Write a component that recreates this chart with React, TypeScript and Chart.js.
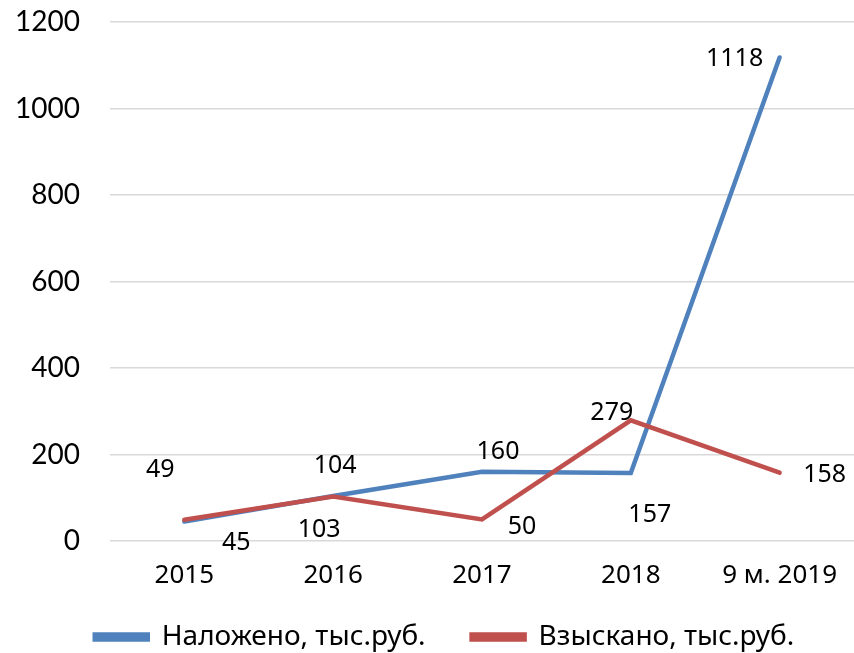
import React, { useEffect, useRef } from "react";
import { Chart, registerables } from "chart.js";

Chart.register(...registerables);

const categories = ["2015", "2016", "2017", "2018", "9 м. 2019"];
const imposedValues = [45, 104, 160, 157, 1118];
const collectedValues = [49, 103, 50, 279, 158];
const seriesNames = ["Наложено, тыс.руб.", "Взыскано, тыс.руб."];
const yTicks = { min: 0, max: 1200, step: 200 };

// label offsets (px) from each point, as placed in the source
const imposedLabelOffsets = [[52, 21], [2, -30], [16, -20], [19, 42], [-45, 1]];
const collectedLabelOffsets = [[-24, -50], [-14, 33], [40, 7], [-19, -7], [45, 2]];

const BLUE = "#4f81bd";
const RED = "#c0504d";
const LABEL_FONT = "'Noto Sans', 'Open Sans', sans-serif";

const dataLabelPlugin = {
  id: "dataLabels",
  afterDatasetsDraw(chart: any) {
    const ctx = chart.ctx;
    const offsets = [imposedLabelOffsets, collectedLabelOffsets];
    ctx.save();
    ctx.font = `25px ${LABEL_FONT}`;
    ctx.fillStyle = "#000";
    ctx.textAlign = "center";
    ctx.textBaseline = "middle";
    chart.data.datasets.forEach((ds: any, di: number) => {
      const meta = chart.getDatasetMeta(di);
      meta.data.forEach((pt: any, i: number) => {
        const [dx, dy] = offsets[di][i];
        ctx.fillText(String(ds.data[i]), pt.x + dx, pt.y + dy);
      });
    });
    ctx.restore();
  },
};

const legendShiftPlugin = {
  id: "legendShift",
  afterLayout(chart: any) {
    const lg = chart.legend;
    if (lg) {
      lg.left += 25;
      lg.right += 25;
      lg.top -= 15;
      lg.bottom -= 15;
    }
  },
};

export default function App() {
  const ref = useRef<HTMLCanvasElement>(null);
  useEffect(() => {
    if (!ref.current) return;
    const chart = new Chart(ref.current, {
      type: "line",
      data: {
        labels: categories,
        datasets: [
          {
            label: seriesNames[0],
            data: imposedValues,
            borderColor: BLUE,
            backgroundColor: BLUE,
            borderWidth: 4.5,
            pointRadius: 0,
            borderCapStyle: "round",
            order: 1,
          },
          {
            label: seriesNames[1],
            data: collectedValues,
            borderColor: RED,
            backgroundColor: RED,
            borderWidth: 4.5,
            pointRadius: 0,
            borderCapStyle: "round",
            order: 0,
          },
        ],
      },
      options: {
        animation: false,
        responsive: true,
        maintainAspectRatio: false,
        layout: { padding: { top: 22, left: -15, right: 0, bottom: -23 } },
        scales: {
          x: {
            offset: true,
            grid: { display: false, drawTicks: false },
            border: { display: false },
            ticks: {
              color: "#000",
              font: { family: LABEL_FONT, size: 26 },
              padding: 19,
              maxRotation: 0,
            },
            afterFit: (scale: any) => {
              scale.height = 51;
              scale.paddingLeft = 0;
              scale.paddingRight = 0;
            },
          },
          y: {
            min: yTicks.min,
            max: yTicks.max,
            grid: { color: "#d9d9d9", lineWidth: 1.5, drawTicks: false },
            border: { display: false },
            ticks: {
              stepSize: yTicks.step,
              color: "#000",
              font: { family: "Lato, 'Open Sans', sans-serif", size: 28 },
              padding: 30,
              callback: (v: any) => String(v),
            },
            afterFit: (scale: any) => {
              scale.paddingTop = 0;
              scale.paddingBottom = 0;
            },
          },
        },
        plugins: {
          legend: {
            position: "bottom",
            labels: {
              color: "#000",
              font: { family: LABEL_FONT, size: 28 },
              boxWidth: 53,
              boxHeight: 5,
              padding: 46,
              sort: (a: any, b: any) => a.datasetIndex - b.datasetIndex,
            },
          },
          tooltip: { enabled: false },
        },
      },
      plugins: [dataLabelPlugin, legendShiftPlugin],
    });
    return () => chart.destroy();
  }, []);
  return (
    <div style={{ position: "fixed", left: 0, top: 0, width: 854, height: 653, background: "#fff" }}>
      <canvas ref={ref} />
    </div>
  );
}
